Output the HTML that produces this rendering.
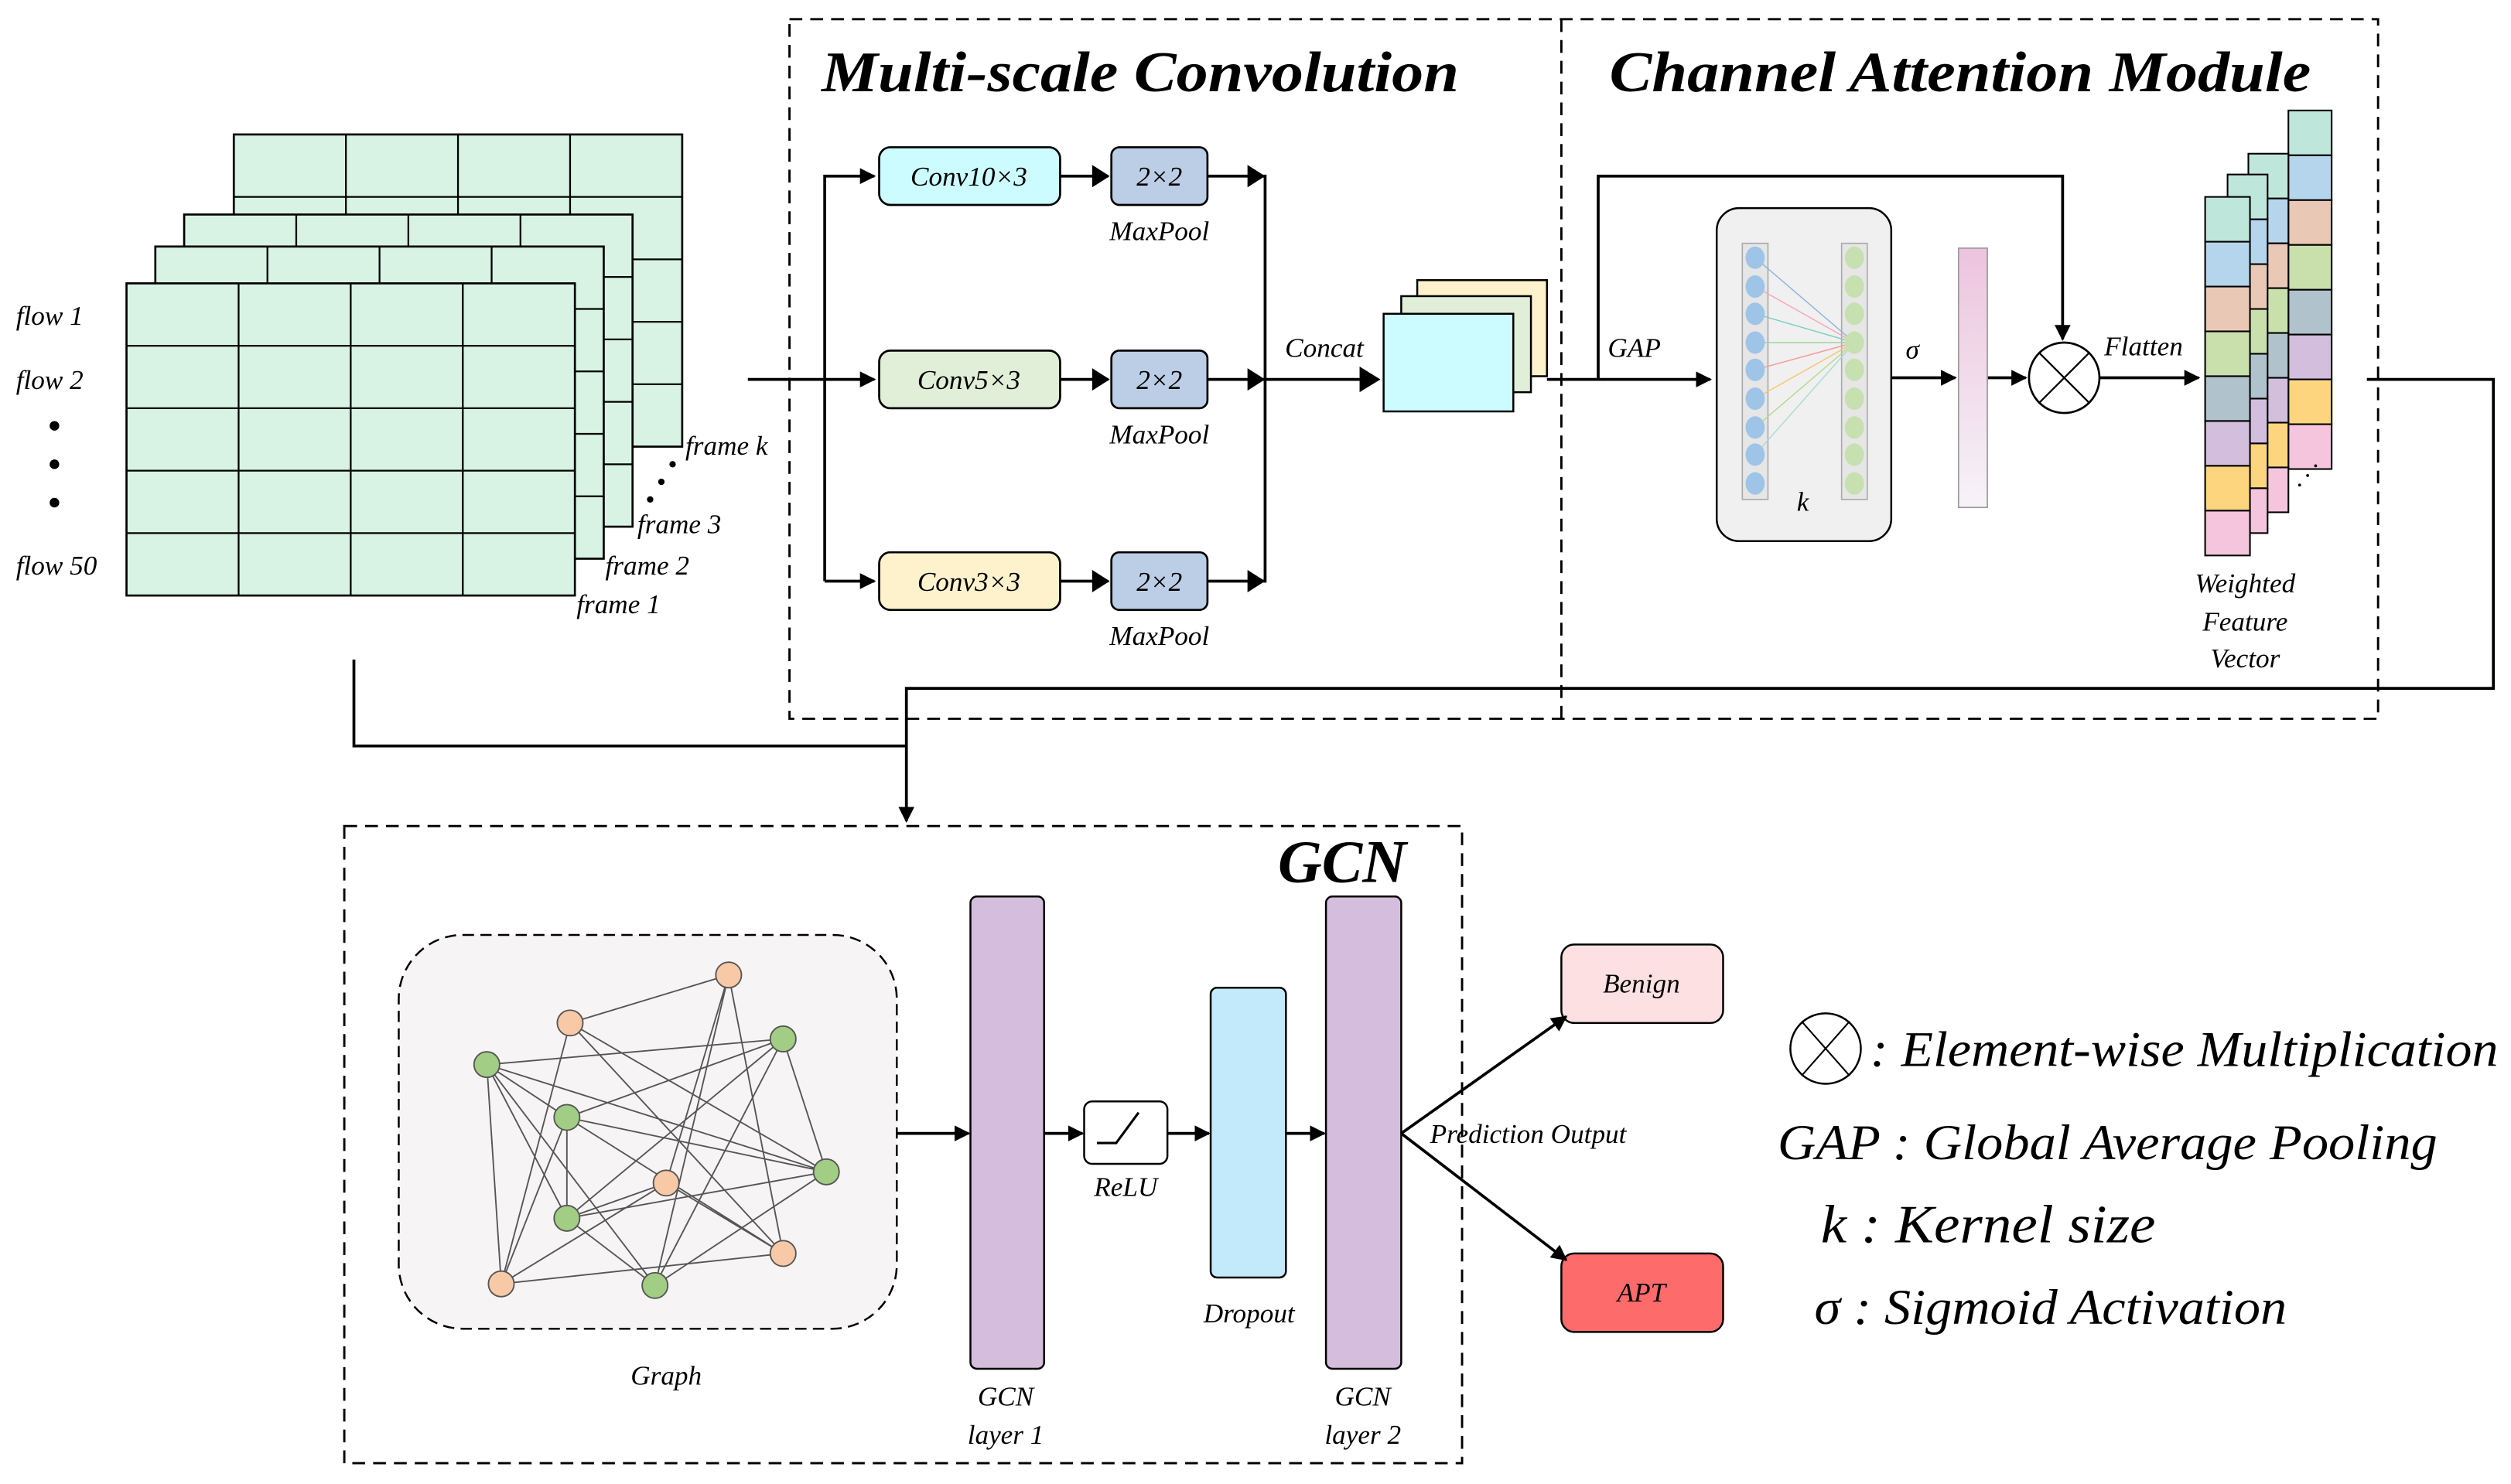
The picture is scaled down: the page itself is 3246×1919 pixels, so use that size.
<!DOCTYPE html>
<html><head><meta charset="utf-8"><style>html,body{margin:0;padding:0;background:#fff}svg{display:block}text{font-family:"Liberation Serif",serif;font-style:italic}</style></head><body>
<svg width="3246" height="1919" viewBox="0 0 1568 927" preserveAspectRatio="none" xmlns="http://www.w3.org/2000/svg">
<defs>
<marker id="a" markerWidth="10" markerHeight="10" refX="9" refY="5" orient="auto" markerUnits="userSpaceOnUse"><path d="M0,0 L10,5 L0,10 z" fill="#000"/></marker>
<linearGradient id="pk" x1="0" y1="0" x2="0" y2="1"><stop offset="0" stop-color="#ecc4de"/><stop offset="1" stop-color="#f6f3f8"/></linearGradient>
<g id="grid"><rect x="0" y="0" width="280" height="195" fill="#d8f3e4" stroke="#000" stroke-width="1.3"/><path d="M70,0V195M140,0V195M210,0V195M0,39H280M0,78H280M0,117H280M0,156H280" stroke="#000" stroke-width="1.1" fill="none"/></g>
</defs>
<!-- grids -->
<use href="#grid" x="146" y="84"/>
<use href="#grid" x="115" y="134"/>
<use href="#grid" x="97" y="154"/>
<use href="#grid" x="79" y="177"/>
<g font-size="17">
<text x="10" y="203">flow 1</text><text x="10" y="243">flow 2</text><text x="10" y="359">flow 50</text>
<text x="428" y="284">frame k</text><text x="398" y="333">frame 3</text><text x="378" y="359">frame 2</text><text x="360" y="383">frame 1</text>
</g>
<g fill="#000"><circle cx="34" cy="266" r="3"/><circle cx="34" cy="290" r="3"/><circle cx="34" cy="314" r="3"/>
<circle cx="420" cy="290" r="2"/><circle cx="413" cy="301" r="2"/><circle cx="406" cy="312" r="2"/></g>
<!-- dashed boxes -->
<g fill="none" stroke="#000" stroke-width="1.4" stroke-dasharray="8,5">
<rect x="493" y="12" width="992" height="437"/><line x1="975" y1="12" x2="975" y2="449"/>
<rect x="215" y="516" width="698" height="398"/>
</g>
<text x="513" y="57" font-size="36" font-weight="bold" textLength="398" lengthAdjust="spacingAndGlyphs">Multi-scale Convolution</text>
<text x="1005" y="57" font-size="36" font-weight="bold" textLength="438" lengthAdjust="spacingAndGlyphs">Channel Attention Module</text>
<!-- multi-scale -->
<g stroke="#000" stroke-width="1.8" fill="none">
<path d="M467,237H546" marker-end="url(#a)"/>
<path d="M515,363V110H546" marker-end="url(#a)"/>
<path d="M515,363H546" marker-end="url(#a)"/>
<path d="M662,110H692M662,237H692M662,363H692" />
<path d="M754,110H790V363H754M754,237H860" />
</g>
<g fill="#000"><path d="M682,103L693,110L682,117zM682,230L693,237L682,244zM682,356L693,363L682,370z"/>
<path d="M779,103L790,110L779,117zM779,230L790,237L779,244zM779,356L790,363L779,370z"/>
<path d="M849,229L862,237L849,245z"/></g>
<g stroke="#000" stroke-width="1.3">
<rect x="549" y="92" width="113" height="36" rx="7" fill="#ccfcff"/>
<rect x="549" y="219" width="113" height="36" rx="7" fill="#e1eed8"/>
<rect x="549" y="345" width="113" height="36" rx="7" fill="#fef2cd"/>
<rect x="694" y="92" width="60" height="36" rx="5" fill="#bccde6"/>
<rect x="694" y="219" width="60" height="36" rx="5" fill="#bccde6"/>
<rect x="694" y="345" width="60" height="36" rx="5" fill="#bccde6"/>
</g>
<g font-size="17" text-anchor="middle">
<text x="605" y="116">Conv10×3</text><text x="605" y="243">Conv5×3</text><text x="605" y="369">Conv3×3</text>
<text x="724" y="116">2×2</text><text x="724" y="243">2×2</text><text x="724" y="369">2×2</text>
<text x="724" y="150">MaxPool</text><text x="724" y="277">MaxPool</text><text x="724" y="403">MaxPool</text>
<text x="827" y="223">Concat</text>
</g>
<g stroke="#000" stroke-width="1.2">
<rect x="885" y="175" width="81" height="60" fill="#fef2cd"/>
<rect x="875" y="185" width="81" height="60" fill="#e1eed8"/>
<rect x="864" y="196" width="81" height="61" fill="#ccfcff"/>
</g>
<!-- channel attention -->
<g stroke="#000" stroke-width="1.8" fill="none">
<path d="M966,237H1068" marker-end="url(#a)"/>
<path d="M998,237V110H1288V212" marker-end="url(#a)"/>
<path d="M1181,236H1221" marker-end="url(#a)"/>
<path d="M1241,236H1265" marker-end="url(#a)"/>
<path d="M1311,236H1373" marker-end="url(#a)"/>
<path d="M1478,237H1557V430H566V513" marker-end="url(#a)"/>
<path d="M221,412V466H566"/>
</g>
<text x="1004" y="223" font-size="17">GAP</text>
<text x="1190" y="224" font-size="17">σ</text>
<text x="1314" y="222" font-size="17">Flatten</text>
<rect x="1072" y="130" width="109" height="208" rx="14" fill="#f0f0f0" stroke="#000" stroke-width="1.2"/>
<rect x="1088" y="152" width="16" height="160" fill="#e6e6e6" stroke="#aaa" stroke-width="0.8"/>
<rect x="1150" y="152" width="16" height="160" fill="#e6e6e6" stroke="#aaa" stroke-width="0.8"/>
<g stroke-width="0.7" fill="none">
<path d="M1096,161L1158,214" stroke="#8ab4e0"/><path d="M1096,179L1158,214" stroke="#f4a6b8"/><path d="M1096,196L1158,214" stroke="#7fd0c0"/>
<path d="M1096,214L1158,214" stroke="#9fd3a0"/><path d="M1096,231L1158,214" stroke="#f49a9a"/><path d="M1096,249L1158,214" stroke="#f6c56f"/>
<path d="M1096,267L1158,214" stroke="#b7d98a"/><path d="M1096,284L1158,214" stroke="#a8dcd0"/>
</g>
<g fill="#9ec4e8"><ellipse cx="1096" cy="161" rx="6" ry="7"/><ellipse cx="1096" cy="179" rx="6" ry="7"/><ellipse cx="1096" cy="196" rx="6" ry="7"/><ellipse cx="1096" cy="214" rx="6" ry="7"/><ellipse cx="1096" cy="231" rx="6" ry="7"/><ellipse cx="1096" cy="249" rx="6" ry="7"/><ellipse cx="1096" cy="267" rx="6" ry="7"/><ellipse cx="1096" cy="284" rx="6" ry="7"/><ellipse cx="1096" cy="302" rx="6" ry="7"/></g>
<g fill="#c6e0b0"><ellipse cx="1158" cy="161" rx="6" ry="7"/><ellipse cx="1158" cy="179" rx="6" ry="7"/><ellipse cx="1158" cy="196" rx="6" ry="7"/><ellipse cx="1158" cy="214" rx="6" ry="7"/><ellipse cx="1158" cy="231" rx="6" ry="7"/><ellipse cx="1158" cy="249" rx="6" ry="7"/><ellipse cx="1158" cy="267" rx="6" ry="7"/><ellipse cx="1158" cy="284" rx="6" ry="7"/><ellipse cx="1158" cy="302" rx="6" ry="7"/></g>
<text x="1122" y="319" font-size="17">k</text>
<rect x="1223" y="155" width="18" height="162" fill="url(#pk)" stroke="#999" stroke-width="0.8"/>
<g stroke="#000" stroke-width="1.3" fill="#fff"><circle cx="1289" cy="236" r="22"/></g>
<path d="M1273,220L1305,252M1305,220L1273,252" stroke="#000" stroke-width="1.1"/>
<!-- feature vector columns -->
<g stroke="#000" stroke-width="1">
<g transform="translate(1429,69)"><rect y="0" width="27" height="28" fill="#bfe6da"/><rect y="28" width="27" height="28" fill="#b5d5ec"/><rect y="56" width="27" height="28" fill="#e9c8b6"/><rect y="84" width="27" height="28" fill="#c9e0ad"/><rect y="112" width="27" height="28" fill="#b0c2cc"/><rect y="140" width="27" height="28" fill="#d3bedd"/><rect y="168" width="27" height="28" fill="#fdd57f"/><rect y="196" width="27" height="28" fill="#f5c5dd"/></g>
<g transform="translate(1404,96)"><rect y="0" width="25" height="28" fill="#bfe6da"/><rect y="28" width="25" height="28" fill="#b5d5ec"/><rect y="56" width="25" height="28" fill="#e9c8b6"/><rect y="84" width="25" height="28" fill="#c9e0ad"/><rect y="112" width="25" height="28" fill="#b0c2cc"/><rect y="140" width="25" height="28" fill="#d3bedd"/><rect y="168" width="25" height="28" fill="#fdd57f"/><rect y="196" width="25" height="28" fill="#f5c5dd"/></g>
<g transform="translate(1391,109)"><rect y="0" width="25" height="28" fill="#bfe6da"/><rect y="28" width="25" height="28" fill="#b5d5ec"/><rect y="56" width="25" height="28" fill="#e9c8b6"/><rect y="84" width="25" height="28" fill="#c9e0ad"/><rect y="112" width="25" height="28" fill="#b0c2cc"/><rect y="140" width="25" height="28" fill="#d3bedd"/><rect y="168" width="25" height="28" fill="#fdd57f"/><rect y="196" width="25" height="28" fill="#f5c5dd"/></g>
<g transform="translate(1377,123)"><rect y="0" width="28" height="28" fill="#bfe6da"/><rect y="28" width="28" height="28" fill="#b5d5ec"/><rect y="56" width="28" height="28" fill="#e9c8b6"/><rect y="84" width="28" height="28" fill="#c9e0ad"/><rect y="112" width="28" height="28" fill="#b0c2cc"/><rect y="140" width="28" height="28" fill="#d3bedd"/><rect y="168" width="28" height="28" fill="#fdd57f"/><rect y="196" width="28" height="28" fill="#f5c5dd"/></g>
</g>
<g fill="#000"><circle cx="1436" cy="303" r="0.9"/><circle cx="1441" cy="297" r="0.9"/><circle cx="1446" cy="291" r="0.9"/></g>
<g font-size="17" text-anchor="middle"><text x="1402" y="370">Weighted</text><text x="1402" y="394">Feature</text><text x="1402" y="417">Vector</text></g>
<!-- GCN -->
<text x="798" y="551" font-size="38" font-weight="bold">GCN</text>
<rect x="249" y="584" width="311" height="246" rx="40" fill="#f6f4f5" stroke="#000" stroke-width="1.2" stroke-dasharray="7,4"/>
<g stroke="#555" stroke-width="0.9">
<path d="M356,639L455,609M304,665L489,649M304,665L354,698M304,665L516,732M304,665L409,803M304,665L354,761M304,665L313,802
M356,639L313,802M356,639L489,783M356,639L516,732M455,609L409,803M455,609L416,739M455,609L489,783
M489,649L354,698M489,649L354,761M489,649L409,803M489,649L516,732
M354,698L516,732M354,698L354,761M354,698L489,783M354,698L313,802
M416,739L354,761M416,739L489,783M416,739L313,802
M516,732L354,761M516,732L409,803M354,761L409,803M313,802L489,783M313,802L356,639"/>
</g>
<g stroke="#555" stroke-width="0.9">
<circle cx="455" cy="609" r="8" fill="#f8c9a6"/><circle cx="356" cy="639" r="8" fill="#f8c9a6"/><circle cx="489" cy="649" r="8" fill="#a2cd84"/>
<circle cx="304" cy="665" r="8" fill="#a2cd84"/><circle cx="354" cy="698" r="8" fill="#a2cd84"/><circle cx="516" cy="732" r="8" fill="#a2cd84"/>
<circle cx="416" cy="739" r="8" fill="#f8c9a6"/><circle cx="354" cy="761" r="8" fill="#a2cd84"/><circle cx="489" cy="783" r="8" fill="#f8c9a6"/>
<circle cx="313" cy="802" r="8" fill="#f8c9a6"/><circle cx="409" cy="803" r="8" fill="#a2cd84"/>
</g>
<g stroke="#000" stroke-width="1.2">
<rect x="606" y="560" width="46" height="295" rx="4" fill="#d4bddd"/>
<rect x="828" y="560" width="47" height="295" rx="4" fill="#d4bddd"/>
<rect x="756" y="617" width="47" height="181" rx="4" fill="#c3eafa"/>
<rect x="677" y="688" width="52" height="39" rx="5" fill="#fff"/>
<rect x="975" y="590" width="101" height="49" rx="8" fill="#fde1e2"/>
<rect x="975" y="783" width="101" height="49" rx="8" fill="#fe6b6b"/>
</g>
<path d="M685,714H697L711,695" stroke="#000" stroke-width="1.5" fill="none"/>
<g stroke="#000" stroke-width="1.8" fill="none">
<path d="M560,708H605" marker-end="url(#a)"/>
<path d="M652,708H676" marker-end="url(#a)"/>
<path d="M729,708H755" marker-end="url(#a)"/>
<path d="M803,708H827" marker-end="url(#a)"/>
<path d="M875,708L978,635" marker-end="url(#a)"/>
<path d="M875,708L978,787" marker-end="url(#a)"/>
</g>
<g font-size="17" text-anchor="middle">
<text x="703" y="747">ReLU</text><text x="780" y="826">Dropout</text><text x="416" y="865">Graph</text>
<text x="628" y="878">GCN</text><text x="628" y="902">layer 1</text>
<text x="851" y="878">GCN</text><text x="851" y="902">layer 2</text>
<text x="1025" y="620">Benign</text><text x="1025" y="813">APT</text>
</g>
<text x="893" y="714" font-size="17">Prediction Output</text>
<!-- legend -->
<circle cx="1140" cy="655" r="22" fill="#fff" stroke="#000" stroke-width="1.2"/>
<path d="M1125,638L1155,672M1155,638L1125,672" stroke="#000" stroke-width="1"/>
<text x="1168" y="666" font-size="31" textLength="392" lengthAdjust="spacingAndGlyphs">: Element-wise Multiplication</text>
<text x="1110" y="724" font-size="31" textLength="412" lengthAdjust="spacingAndGlyphs">GAP : Global Average Pooling</text>
<text x="1137" y="776" font-size="34" textLength="209" lengthAdjust="spacingAndGlyphs">k : Kernel size</text>
<text x="1133" y="827" font-size="31" textLength="295" lengthAdjust="spacingAndGlyphs">σ : Sigmoid Activation</text>
</svg>
</body></html>
